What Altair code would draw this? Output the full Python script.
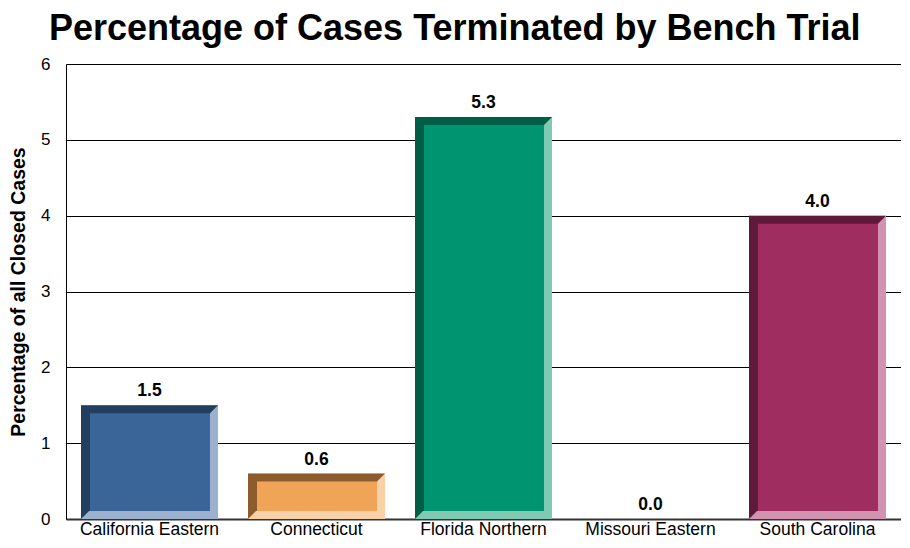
import altair as alt
import pandas as pd

categories = ["California Eastern", "Connecticut", "Florida Northern", "Missouri Eastern", "South Carolina"]
values = [1.5, 0.6, 5.3, 0.0, 4.0]
face_colors = ["#3A6599", "#F0A458", "#009470", "#888888", "#A02D60"]
dark_colors = ["#233F60", "#8C5C2E", "#005E47", "#555555", "#5E1A3A"]
light_colors = ["#9BB1CD", "#F9D1A8", "#80CAB3", "#CCCCCC", "#D293B0"]

df = pd.DataFrame({
    "cat": categories,
    "val": values,
    "face": face_colors,
    "dark": dark_colors,
    "light": light_colors,
    "label": [f"{v:.1f}" for v in values],
})

FONT = "Liberation Sans"

x = alt.X("cat:N", sort=categories, title=None,
          scale=alt.Scale(paddingInner=0.188, paddingOuter=0.094),
          axis=alt.Axis(labelAngle=0, labelFont=FONT, labelFontSize=17.5, labelColor="black",
                        ticks=False, tickSize=0, domainColor="#333333", domainWidth=2,
                        labelPadding=1))
y = alt.Y("val:Q", title="Percentage of all Closed Cases",
          scale=alt.Scale(domain=[0, 6], nice=False),
          axis=alt.Axis(values=[0, 1, 2, 3, 4, 5, 6], format="d", grid=True, gridColor="black",
                        gridWidth=1, gridOpacity=1, domainColor="black", ticks=False, tickSize=0,
                        labelFont=FONT, labelFontSize=17, labelColor="black",
                        titleFont=FONT, titleFontSize=19.5, titleFontWeight="bold",
                        titleColor="black", labelPadding=16, titlePadding=12))

base = alt.Chart(df)
bars = base.transform_filter("datum.val > 0")

light = bars.mark_bar(size=137).encode(
    x=x, y=y, y2=alt.datum(0), color=alt.Color("light:N", scale=None))
dark = bars.mark_bar(size=129, xOffset=-4, y2Offset=-8).encode(
    x=x, y=y, y2=alt.datum(0), color=alt.Color("dark:N", scale=None))
face = bars.mark_bar(size=120, xOffset=0.5, yOffset=8, y2Offset=-8).encode(
    x=x, y=y, y2=alt.datum(0), color=alt.Color("face:N", scale=None))
corner_tr = bars.mark_point(shape="M-1,-1 L1,-1 L-1,1 Z", size=64, filled=True, opacity=1,
                            strokeWidth=0, xOffset=64.5, yOffset=4).encode(
    x=x, y=y, color=alt.Color("dark:N", scale=None))
corner_bl = bars.mark_point(shape="M-1,-1 L1,-1 L-1,1 Z", size=64, filled=True, opacity=1,
                            strokeWidth=0, xOffset=-64.5, yOffset=-4).encode(
    x=x, y=alt.datum(0), color=alt.Color("dark:N", scale=None))
text = base.mark_text(font=FONT, fontSize=17.5, fontWeight="bold", baseline="alphabetic",
                      dy=-9, color="black").encode(x=x, y=y, text="label:N")

chart = alt.layer(light, dark, face, corner_tr, corner_bl, text).properties(
    width=835, height=455,
    padding={"left": 0, "top": 3, "right": 0, "bottom": 0},
    title=alt.Title("Percentage of Cases Terminated by Bench Trial", font=FONT, fontSize=36,
                    fontWeight="bold", color="black", anchor="middle", frame="bounds", offset=7),
).configure_view(stroke=None).configure(background="white")

chart.save("out.html", embed_options={"renderer": "svg", "actions": False})
